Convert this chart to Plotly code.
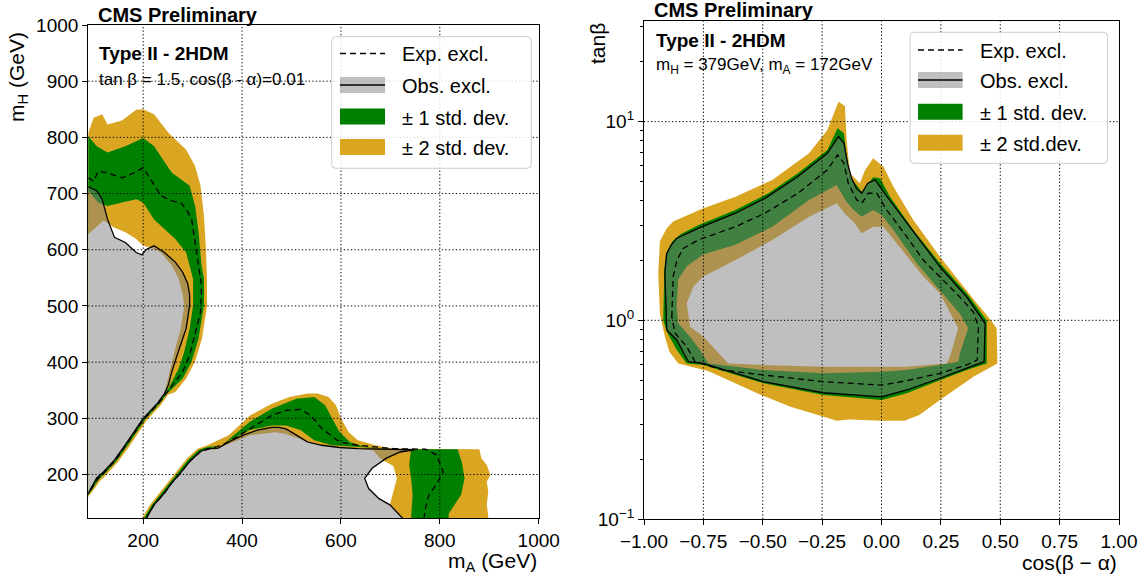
import math
import plotly.graph_objects as go

# ---------------- data: left panel (m_A, m_H in GeV) ----------------
# region A (low m_A) contours
A_outer2_x = [60, 89, 100, 117, 128, 157, 186, 200, 222, 251, 287, 305, 316, 323, 327, 329, 329, 319, 305, 287, 265, 250, 236, 207, 171, 149, 127, 113, 89, 60]
A_outer2_y = [808, 808, 835, 841, 823, 830, 849, 850, 841, 808, 778, 749, 714, 660, 601, 548, 500, 442, 401, 371, 347, 342, 324, 296, 249, 222, 201, 189, 160, 160]
A_outer1_x = [60, 89, 106, 128, 164, 200, 222, 258, 294, 305, 312, 318, 323, 323, 312, 298, 280, 258, 247, 233, 204, 168, 146, 124, 110, 89, 60]
A_outer1_y = [802, 802, 784, 773, 784, 799, 784, 737, 714, 678, 631, 572, 548, 501, 442, 401, 371, 353, 343, 326, 298, 251, 224, 203, 191, 163, 163]
A_inner1_x = [60, 89, 109, 128, 157, 186, 200, 222, 243, 265, 287, 294, 301, 301, 294, 283, 272, 258, 251, 243, 229, 200, 164, 142, 120, 106, 89, 60]
A_inner1_y = [705, 705, 684, 678, 684, 690, 684, 654, 637, 619, 595, 572, 548, 501, 460, 418, 389, 365, 353, 344, 327, 300, 253, 226, 205, 194, 167, 167]
A_inner2_x = [60, 89, 120, 140, 164, 186, 200, 215, 236, 258, 272, 280, 283, 276, 265, 251, 243, 229, 200, 164, 142, 120, 106, 89, 60]
A_inner2_y = [628, 628, 652, 640, 631, 619, 607, 604, 595, 572, 548, 520, 500, 460, 424, 371, 344, 327, 300, 253, 226, 205, 194, 167, 167]
A_obs_x = [60, 89, 106, 117, 128, 142, 164, 186, 197, 207, 222, 243, 265, 280, 290, 294, 294, 287, 272, 258, 251, 243, 229, 200, 164, 142, 120, 106, 89, 60]
A_obs_y = [712, 712, 705, 690, 654, 622, 613, 595, 591, 601, 607, 595, 578, 560, 540, 520, 501, 460, 421, 383, 359, 344, 327, 300, 253, 226, 205, 194, 167, 167]
A_exp_x = [89, 100, 109, 128, 157, 182, 200, 215, 236, 258, 276, 287, 298, 305, 312, 318, 316, 305, 294, 280, 265, 254, 245, 231, 202, 166, 144, 122, 108, 89]
A_exp_y = [728, 722, 740, 737, 728, 737, 746, 725, 696, 687, 684, 672, 654, 613, 570, 537, 489, 448, 412, 383, 365, 353, 343, 326, 299, 252, 225, 204, 192, 165]

# region B (high m_A, low m_H) contours
B_outer2_x = [185, 198, 214, 236, 251, 265, 288, 310, 330, 373, 416, 460, 496, 532, 553, 575, 590, 600, 615, 634, 670, 706, 880, 884, 895, 902, 895, 898, 895, 898, 898, 185]
B_outer2_y = [100, 123, 146, 170, 188, 203, 228, 246, 252, 270, 305, 326, 338, 344, 344, 338, 323, 300, 276, 261, 252, 246, 245, 229, 217, 199, 187, 170, 146, 125, 100, 100]
B_outer1_x = [189, 202, 218, 239, 254, 268, 291, 313, 330, 359, 416, 460, 510, 546, 568, 582, 597, 618, 648, 706, 836, 845, 850, 843, 830, 818, 818, 189]
B_outer1_y = [100, 123, 146, 169, 187, 201, 226, 244, 249, 252, 294, 317, 335, 338, 323, 300, 276, 258, 249, 245, 245, 220, 193, 164, 145, 130, 100, 100]
B_inner1_x = [194, 207, 222, 243, 258, 272, 294, 316, 330, 345, 380, 416, 460, 489, 518, 546, 582, 634, 706, 742, 738, 742, 745, 742, 742, 194]
B_inner1_y = [100, 123, 146, 167, 185, 199, 223, 241, 246, 249, 263, 279, 287, 287, 279, 261, 252, 249, 245, 245, 217, 193, 164, 125, 100, 100]
B_inner2_x = [194, 207, 222, 243, 258, 272, 294, 316, 330, 345, 416, 467, 489, 525, 561, 634, 665, 680, 706, 713, 706, 699, 713, 724, 730, 194]
B_inner2_y = [100, 123, 146, 167, 185, 199, 223, 241, 246, 244, 270, 275, 272, 261, 252, 246, 243, 228, 215, 193, 169, 146, 134, 123, 100, 100]
B_obs_x = [200, 207, 222, 243, 258, 272, 294, 316, 330, 345, 352, 373, 402, 431, 460, 474, 489, 510, 532, 561, 597, 634, 670, 706, 749, 720, 692, 663, 648, 656, 677, 699, 713, 724, 730, 200]
B_obs_y = [100, 123, 146, 167, 185, 199, 223, 241, 246, 246, 247, 258, 270, 279, 284, 284, 281, 270, 258, 252, 248, 246, 245, 244, 244, 240, 229, 211, 193, 175, 157, 146, 134, 123, 100, 100]
B_exp_x = [207, 222, 243, 258, 272, 294, 316, 345, 373, 416, 460, 489, 518, 539, 561, 597, 634, 706, 771, 793, 807, 793, 778, 771, 768]
B_exp_y = [123, 146, 167, 185, 199, 223, 241, 248, 258, 282, 305, 314, 316, 305, 282, 258, 252, 246, 245, 235, 205, 182, 164, 140, 123]

# ---------------- data: right panel (cos(beta-alpha), tan beta) ----------------
R_outer2_c = [-0.933, -0.940, -0.933, -0.905, -0.877, -0.800, -0.750, -0.615, -0.460, -0.305, -0.228, -0.181, -0.154, -0.147, -0.133, -0.091, -0.069, -0.035, 0.008, 0.050, 0.134, 0.246, 0.344, 0.401, 0.450, 0.485, 0.488, 0.387, 0.246, 0.159, 0.097, 0.004, -0.135, -0.189, -0.243, -0.383, -0.507, -0.630, -0.730, -0.856, -0.893, -0.912]
R_outer2_t = [1.08, 1.72, 2.50, 2.90, 3.14, 3.45, 3.66, 4.19, 5.09, 6.93, 9.08, 12.6, 12.0, 8.09, 5.50, 4.90, 5.71, 6.54, 5.93, 4.71, 3.20, 2.09, 1.48, 1.22, 1.04, 0.911, 0.607, 0.520, 0.397, 0.334, 0.312, 0.312, 0.317, 0.312, 0.327, 0.367, 0.421, 0.491, 0.556, 0.607, 0.695, 0.827]
R_outer1_c = [-0.919, -0.914, -0.905, -0.880, -0.848, -0.770, -0.615, -0.476, -0.352, -0.228, -0.185, -0.158, -0.147, -0.133, -0.083, -0.035, -0.006, 0.036, 0.134, 0.246, 0.359, 0.443, 0.443, 0.359, 0.246, 0.106, 0.001, -0.245, -0.498, -0.750, -0.820, -0.862, -0.904]
R_outer1_t = [1.00, 1.86, 2.20, 2.50, 2.70, 3.02, 3.59, 4.36, 5.50, 7.20, 9.26, 8.74, 6.67, 5.29, 4.44, 5.25, 5.19, 4.19, 2.85, 1.94, 1.37, 1.00, 0.607, 0.562, 0.500, 0.429, 0.397, 0.421, 0.482, 0.596, 0.607, 0.708, 0.877]
R_inner1_c = [-0.863, -0.856, -0.820, -0.750, -0.615, -0.460, -0.305, -0.189, -0.150, -0.119, -0.083, -0.035, 0.001, 0.050, 0.148, 0.246, 0.330, 0.365, 0.330, 0.323, 0.246, 0.106, 0.001, -0.245, -0.498, -0.729, -0.764, -0.806, -0.856]
R_inner1_t = [1.17, 1.60, 1.87, 2.15, 2.40, 2.96, 4.03, 4.80, 4.00, 3.60, 3.32, 3.59, 3.39, 2.85, 1.94, 1.42, 1.08, 0.911, 0.682, 0.619, 0.596, 0.562, 0.551, 0.541, 0.562, 0.607, 0.708, 0.827, 0.966]
R_inner2_c = [-0.820, -0.792, -0.750, -0.615, -0.460, -0.305, -0.189, -0.150, -0.119, -0.083, -0.035, 0.008, 0.064, 0.176, 0.246, 0.323, 0.288, 0.274, 0.106, 0.001, -0.245, -0.498, -0.645, -0.750, -0.806]
R_inner2_t = [1.22, 1.48, 1.66, 2.01, 2.54, 3.32, 3.88, 3.40, 3.14, 2.74, 2.96, 2.96, 2.44, 1.66, 1.37, 0.911, 0.656, 0.607, 0.584, 0.584, 0.584, 0.596, 0.607, 0.827, 0.929]
R_obs_c = [-0.904, -0.912, -0.905, -0.885, -0.862, -0.770, -0.615, -0.491, -0.352, -0.228, -0.181, -0.158, -0.143, -0.126, -0.105, -0.083, -0.058, -0.027, 0.029, 0.134, 0.246, 0.359, 0.436, 0.432, 0.359, 0.246, 0.106, 0.001, -0.245, -0.498, -0.750, -0.813, -0.862, -0.904]
R_obs_t = [0.894, 1.72, 2.15, 2.40, 2.59, 2.91, 3.46, 4.11, 5.29, 6.93, 8.40, 7.78, 6.18, 5.19, 4.60, 4.36, 4.90, 5.09, 4.11, 2.79, 1.86, 1.31, 0.966, 0.619, 0.573, 0.511, 0.446, 0.412, 0.432, 0.491, 0.607, 0.619, 0.796, 0.894]
R_exp_c = [-0.883, -0.877, -0.862, -0.835, -0.770, -0.615, -0.491, -0.352, -0.228, -0.185, -0.158, -0.140, -0.104, -0.083, -0.056, -0.020, 0.022, 0.106, 0.176, 0.246, 0.330, 0.387, 0.408, 0.403, 0.359, 0.246, 0.106, 0.001, -0.245, -0.498, -0.666, -0.785, -0.820, -0.869, -0.883]
R_exp_t = [1.04, 1.66, 2.00, 2.30, 2.54, 2.96, 3.46, 4.36, 5.71, 6.80, 6.18, 4.90, 4.03, 3.88, 4.36, 4.36, 3.59, 2.64, 2.01, 1.66, 1.31, 1.10, 0.929, 0.631, 0.596, 0.541, 0.497, 0.472, 0.491, 0.531, 0.562, 0.619, 0.736, 0.861, 1.04]

# ticks / labels
L_xticks = [200, 400, 600, 800, 1000]
L_yticks = [200, 300, 400, 500, 600, 700, 800, 900, 1000]
R_xticks = [-1.0, -0.75, -0.5, -0.25, 0.0, 0.25, 0.5, 0.75, 1.0]
R_xticktext = ["\u22121.00", "\u22120.75", "\u22120.50", "\u22120.25", "0.00", "0.25", "0.50", "0.75", "1.00"]
R_yticks = [0.1, 1, 10]
R_yticktext = ["10<sup>\u22121</sup>", "10<sup>0</sup>", "10<sup>1</sup>"]
R_yminor = [0.2, 0.3, 0.4, 0.5, 0.6, 0.7, 0.8, 0.9, 2, 3, 4, 5, 6, 7, 8, 9, 20, 30]

L_legend = ["Exp. excl.", "Obs. excl.", "\u00b1 1 std. dev.", "\u00b1 2 std. dev."]
R_legend = ["Exp. excl.", "Obs. excl.", "\u00b1 1 std. dev.", "\u00b1 2 std.dev."]

# ---------------- styling ----------------
W, H = 1147, 577
YELLOW = "#DAA520"
GREEN = "#008000"
GRAY = "rgba(128,128,128,0.5)"
FONT = "Liberation Sans, Arial, sans-serif"
R_YLOG = (-1.0, 1.505)          # log10 range of the right y axis
R_YPIX = (519.0, 21.3)          # its pixel extent (bottom, top)


def px(x):
    return x / W


def py(y):
    return 1 - y / H


fig = go.Figure()


def band(x, y, color, xa, ya):
    fig.add_trace(go.Scatter(x=x, y=y, mode="lines", fill="toself", fillcolor=color,
                             line=dict(width=0, color=color), hoverinfo="skip",
                             showlegend=False, xaxis=xa, yaxis=ya))


def obs(x, y, xa, ya):
    fig.add_trace(go.Scatter(x=x, y=y, mode="lines", fill="toself", fillcolor=GRAY,
                             line=dict(width=1.3, color="black"), hoverinfo="skip",
                             showlegend=False, xaxis=xa, yaxis=ya))


def exp_line(x, y, xa, ya):
    fig.add_trace(go.Scatter(x=x, y=y, mode="lines",
                             line=dict(width=1.3, color="black", dash="6px,4px"),
                             hoverinfo="skip", showlegend=False, xaxis=xa, yaxis=ya))


# left panel
band(A_outer2_x, A_outer2_y, YELLOW, "x", "y")
band(B_outer2_x, B_outer2_y, YELLOW, "x", "y")
band(A_outer1_x, A_outer1_y, GREEN, "x", "y")
band(B_outer1_x, B_outer1_y, GREEN, "x", "y")
band(A_inner1_x, A_inner1_y, YELLOW, "x", "y")
band(B_inner1_x, B_inner1_y, YELLOW, "x", "y")
band(A_inner2_x, A_inner2_y, "white", "x", "y")
band(B_inner2_x, B_inner2_y, "white", "x", "y")
obs(A_obs_x, A_obs_y, "x", "y")
obs(B_obs_x, B_obs_y, "x", "y")
exp_line(A_exp_x, A_exp_y, "x", "y")
exp_line(B_exp_x, B_exp_y, "x", "y")

# right panel
band(R_outer2_c, R_outer2_t, YELLOW, "x2", "y2")
band(R_outer1_c, R_outer1_t, GREEN, "x2", "y2")
band(R_inner1_c, R_inner1_t, YELLOW, "x2", "y2")
band(R_inner2_c, R_inner2_t, "white", "x2", "y2")
obs(R_obs_c, R_obs_t, "x2", "y2")
exp_line(R_exp_c, R_exp_t, "x2", "y2")

axis_common = dict(showline=True, linecolor="black", linewidth=1.2, mirror=True,
                   ticks="outside", ticklen=5, tickwidth=1, tickcolor="black",
                   showgrid=False, zeroline=False, automargin=False,
                   tickfont=dict(family=FONT, size=19, color="black"))

fig.update_layout(
    template="none",
    width=W, height=H, autosize=False,
    margin=dict(l=0, r=0, t=0, b=0, pad=0, autoexpand=False),
    paper_bgcolor="white", plot_bgcolor="white",
    showlegend=False,
    xaxis=dict(domain=[px(88.3), px(538.7)], range=[89, 1000], anchor="y",
               tickmode="array", tickvals=L_xticks, **axis_common),
    yaxis=dict(domain=[py(518.3), py(25)], range=[122, 1000], anchor="x",
               tickmode="array", tickvals=L_yticks, **axis_common),
    xaxis2=dict(domain=[px(644), px(1119)], range=[-1, 1], anchor="y2",
                tickmode="array", tickvals=R_xticks, ticktext=R_xticktext, **axis_common),
    yaxis2=dict(domain=[py(R_YPIX[0]), py(R_YPIX[1])], type="log", range=list(R_YLOG), anchor="x2",
                tickmode="array", tickvals=R_yticks, ticktext=R_yticktext,
                minor=dict(tickmode="array", tickvals=R_yminor, ticks="outside",
                           ticklen=3, tickcolor="black", tickwidth=1, showgrid=False),
                **axis_common),
)

shapes = []
GRID = dict(color="black", width=1, dash="1.3px,2.2px")
# grid lines drawn above the filled areas (as in the reference)
for v in L_xticks[:-1]:
    shapes.append(dict(type="line", xref="x", yref="y domain", x0=v, x1=v, y0=0, y1=1,
                       line=GRID, layer="above"))
for v in L_yticks[:-1]:
    shapes.append(dict(type="line", xref="x domain", yref="y", x0=0, x1=1, y0=v, y1=v,
                       line=GRID, layer="above"))
for v in R_xticks[1:-1]:
    shapes.append(dict(type="line", xref="x2", yref="y2 domain", x0=v, x1=v, y0=0, y1=1,
                       line=GRID, layer="above"))
for v in R_yticks[1:]:
    frac = (math.log10(v) - R_YLOG[0]) / (R_YLOG[1] - R_YLOG[0])
    shapes.append(dict(type="line", xref="x2 domain", yref="y2 domain", x0=0, x1=1,
                       y0=frac, y1=frac, line=GRID, layer="above"))

annotations = []


def text(x, y, s, size, bold=False, xanchor="left", yanchor="middle", angle=0):
    annotations.append(dict(x=px(x), y=py(y), xref="paper", yref="paper", text=s,
                            showarrow=False, xanchor=xanchor, yanchor=yanchor,
                            textangle=angle,
                            font=dict(family=FONT, size=size, color="black",
                                      weight="bold" if bold else "normal")))


def rounded_rect(x0, y0, x1, y1, r=4):
    rx, ry = r / W, r / H
    X0, X1 = px(x0), px(x1)
    Y0, Y1 = py(y0), py(y1)  # Y0 top (bigger)
    return (f"M {X0+rx},{Y0} L {X1-rx},{Y0} Q {X1},{Y0} {X1},{Y0-ry} "
            f"L {X1},{Y1+ry} Q {X1},{Y1} {X1-rx},{Y1} L {X0+rx},{Y1} "
            f"Q {X0},{Y1} {X0},{Y1+ry} L {X0},{Y0-ry} Q {X0},{Y0} {X0+rx},{Y0} Z")


def legend(box, hx0, hx1, tx, rows, labels, ph=16):
    shapes.append(dict(type="path", xref="paper", yref="paper", path=rounded_rect(*box),
                       fillcolor="rgba(255,255,255,0.85)", line=dict(color="#cccccc", width=1),
                       layer="above"))
    shapes.append(dict(type="line", xref="paper", yref="paper", x0=px(hx0), x1=px(hx1),
                       y0=py(rows[0]), y1=py(rows[0]),
                       line=dict(color="black", width=1.3, dash="6px,4px"), layer="above"))
    shapes.append(dict(type="rect", xref="paper", yref="paper", x0=px(hx0), x1=px(hx1),
                       y0=py(rows[1] - ph / 2), y1=py(rows[1] + ph / 2),
                       fillcolor=GRAY, line=dict(width=0), layer="above"))
    shapes.append(dict(type="line", xref="paper", yref="paper", x0=px(hx0), x1=px(hx1),
                       y0=py(rows[1]), y1=py(rows[1]),
                       line=dict(color="black", width=1.3), layer="above"))
    for r, c in ((rows[2], GREEN), (rows[3], YELLOW)):
        shapes.append(dict(type="rect", xref="paper", yref="paper", x0=px(hx0), x1=px(hx1),
                           y0=py(r - ph / 2), y1=py(r + ph / 2),
                           fillcolor=c, line=dict(width=0), layer="above"))
    for r, lab in zip(rows, labels):
        text(tx, r + 1, lab, 20)


legend((331.7, 36.7, 531.3, 168.3), 340, 385, 400, [53.5, 85, 116.5, 147], L_legend)
legend((910, 32.3, 1107.5, 163.3), 918, 962.6, 978, [50, 80, 111.7, 142.7], R_legend)

# titles / labels
text(96, 15, "CMS Preliminary", 20, bold=True)
text(651.5, 10.5, "CMS Preliminary", 20, bold=True)
text(97, 54, "Type II - 2HDM", 19, bold=True)
text(97, 79.5, "tan \u03b2 = 1.5, cos(\u03b2 - \u03b1)=0.01", 17)
text(653.5, 41, "Type II - 2HDM", 19, bold=True)
text(653.5, 65.5, "m<sub>H</sub> = 379GeV, m<sub>A</sub> = 172GeV", 17)

text(538.7, 562, "m<sub>A</sub> (GeV)", 21, xanchor="right")
text(1119, 562, "cos(\u03b2 \u2212 \u03b1)", 21, xanchor="right")
text(18, 77, "m<sub>H</sub> (GeV)", 21, xanchor="center", yanchor="middle", angle=-90)
text(597, 44, "tan\u03b2", 21, xanchor="center", yanchor="middle", angle=-90)

fig.update_layout(shapes=shapes, annotations=annotations)
fig.write_html("out.html")
